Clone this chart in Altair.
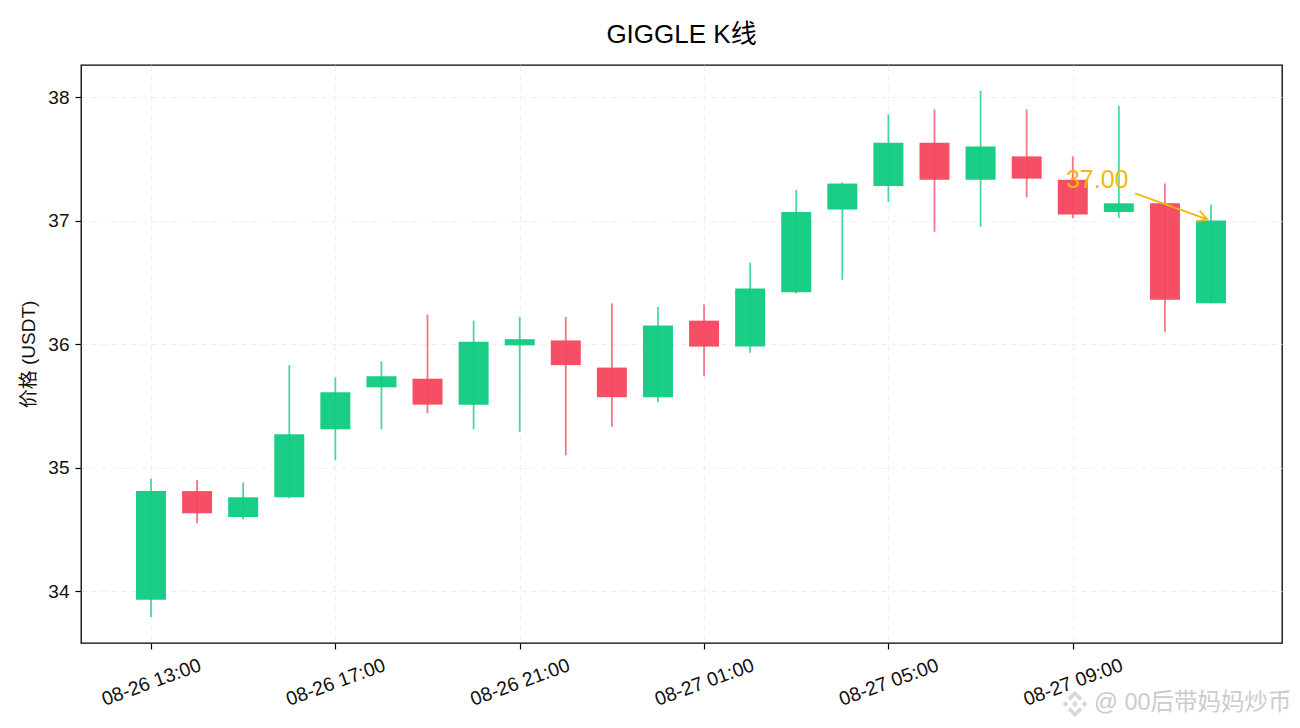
import altair as alt
import pandas as pd

FONT = "Liberation Sans, Noto Sans CJK SC"
GREEN = "#0ECB81"
RED = "#F6465D"
GOLD = "#F0B90B"

idx = list(range(24))
opens = [33.93, 34.81, 34.60, 34.76, 35.31, 35.65, 35.72, 35.51, 35.99, 36.03, 35.81, 35.57,
         36.19, 35.98, 36.42, 37.09, 37.28, 37.63, 37.33, 37.52, 37.33, 37.07, 37.14, 36.33]
closes = [34.81, 34.63, 34.76, 35.27, 35.61, 35.74, 35.51, 36.02, 36.04, 35.83, 35.57, 36.15,
          35.98, 36.45, 37.07, 37.30, 37.63, 37.33, 37.60, 37.34, 37.05, 37.14, 36.36, 37.00]
highs = [34.91, 34.90, 34.88, 35.83, 35.73, 35.86, 36.24, 36.19, 36.22, 36.22, 36.33, 36.30,
         36.32, 36.66, 37.25, 37.31, 37.86, 37.90, 38.05, 37.90, 37.52, 37.93, 37.30, 37.13]
lows = [33.79, 34.55, 34.58, 34.75, 35.06, 35.31, 35.44, 35.31, 35.29, 35.10, 35.33, 35.53,
        35.74, 35.93, 36.41, 36.52, 37.15, 36.91, 36.95, 37.19, 37.02, 37.02, 36.10, 36.33]
tick_idx = [0, 4, 8, 12, 16, 20]
tick_labels = ["08-26 13:00", "08-26 17:00", "08-26 21:00", "08-27 01:00", "08-27 05:00", "08-27 09:00"]
y_ticks = [34, 35, 36, 37, 38]

df = pd.DataFrame({"i": idx, "open": opens, "close": closes, "high": highs, "low": lows})
df["dir"] = ["up" if c >= o else "down" for o, c in zip(opens, closes)]

x_scale = alt.Scale(domain=[-1.519, 24.54], nice=False, zero=False, padding=0)
y_scale = alt.Scale(domain=[33.58, 38.26], nice=False, zero=False)
color = alt.Color("dir:N", scale=alt.Scale(domain=["up", "down"], range=[GREEN, RED]), legend=None)

label_expr = "[" + ",".join(f"'{t}'" for t in tick_labels) + "][datum.value/4]"
x_axis = alt.Axis(values=tick_idx, labelExpr=label_expr, title=None, labelAngle=-20, labelAlign="center",
                  labelBaseline="middle", labelPadding=33, labelFontSize=19.5, labelFont=FONT, labelColor="#111",
                  labelOverlap=False, labelFlush=False, tickColor="black", tickSize=6, tickWidth=1.2, domain=False,
                  grid=True, gridColor="#eeeeee", gridDash=[5, 5], gridWidth=1.1)
y_axis = alt.Axis(values=y_ticks, title="价格 (USDT)", titleFont=FONT, titleFontSize=19, titleFontWeight="normal",
                  titleColor="#111", titlePadding=9, labelFontSize=19, labelFont=FONT, labelColor="#111", labelPadding=6,
                  tickColor="black", tickSize=6, tickWidth=1.2, domain=False, format="d",
                  grid=True, gridColor="#eeeeee", gridDash=[5, 5], gridWidth=1.1)

wicks = alt.Chart(df).mark_rule(strokeWidth=1.8, opacity=0.75).encode(
    x=alt.X("i:Q", scale=x_scale, axis=x_axis),
    y=alt.Y("low:Q", scale=y_scale, axis=y_axis),
    y2="high:Q",
    color=color,
)
bodies = alt.Chart(df).mark_bar(size=30, opacity=0.95).encode(
    x=alt.X("i:Q", scale=x_scale),
    y=alt.Y("open:Q", scale=y_scale),
    y2="close:Q",
    color=color,
)

last_i, last_v = idx[-1], closes[-1]
ann_i, ann_v = 20.53, 37.33
arrow_df = pd.DataFrame({"x0": [21.35], "y0": [37.22], "x1": [last_i - 0.08], "y1": [last_v + 0.01]})
ann_df = pd.DataFrame({"x": [ann_i], "y": [ann_v], "t": [f"{last_v:.2f}"]})

shaft = alt.Chart(arrow_df).mark_rule(color=GOLD, strokeWidth=1.8).encode(
    x=alt.X("x0:Q", scale=x_scale), x2="x1:Q", y=alt.Y("y0:Q", scale=y_scale), y2="y1:Q")
head = alt.Chart(arrow_df).mark_point(shape="M-1,-0.55L0,0L-1,0.55", size=400, angle=19, filled=False, color=GOLD,
                                      strokeWidth=1.8, opacity=1).encode(
    x=alt.X("x1:Q", scale=x_scale), y=alt.Y("y1:Q", scale=y_scale))
ann = alt.Chart(ann_df).mark_text(color=GOLD, fontSize=25, font=FONT, align="center", baseline="middle").encode(
    x=alt.X("x:Q", scale=x_scale), y=alt.Y("y:Q", scale=y_scale), text="t:N")

mark_df = pd.DataFrame({"t": ["@ 00后带妈妈炒币"]})
wm_text = alt.Chart(mark_df).mark_text(color="#cccccc", fontSize=23.5, font=FONT, align="left", baseline="middle").encode(
    x=alt.value(1013), y=alt.value(638), text="t:N")
logo_path = ("M0,-1L0.55,-0.45L0.35,-0.25L0,-0.6L-0.35,-0.25L-0.55,-0.45Z"
             "M0,1L0.55,0.45L0.35,0.25L0,0.6L-0.35,0.25L-0.55,0.45Z"
             "M0,-0.25L0.25,0L0,0.25L-0.25,0Z"
             "M-0.72,-0.22L-0.5,0L-0.72,0.22L-0.94,0Z"
             "M0.72,-0.22L0.94,0L0.72,0.22L0.5,0Z")
wm_logo = alt.Chart(mark_df).mark_point(shape=logo_path, size=700, filled=True, color="#d8d8d8", opacity=1).encode(
    x=alt.value(994), y=alt.value(639))

chart = alt.layer(wicks, bodies, shaft, head, ann, wm_logo, wm_text).properties(
    width=1201, height=578,
    title=alt.TitleParams("GIGGLE K线", font=FONT, fontSize=26, fontWeight="normal", color="black", anchor="middle", offset=17),
    autosize=alt.AutoSizeParams(type="none"),
    padding={"left": 73, "top": 57, "right": 10, "bottom": 84},
).configure_view(stroke="black", strokeWidth=1.3)

chart.save("out.html", embed_options={"renderer": "svg", "actions": False})
